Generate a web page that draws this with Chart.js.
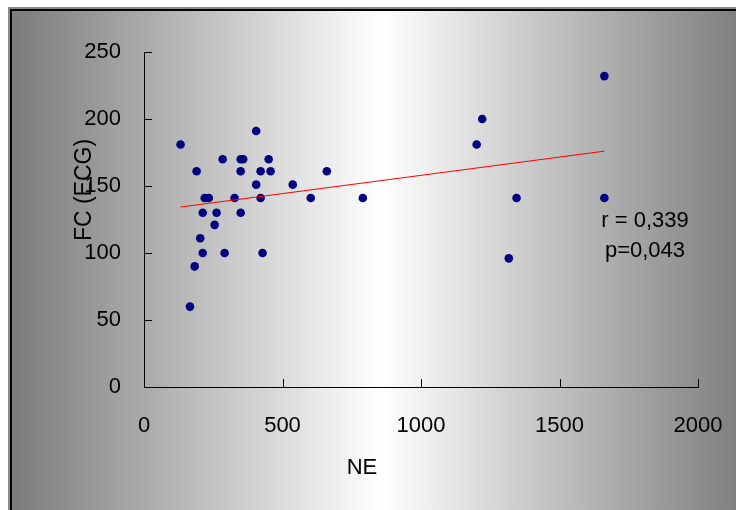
<!DOCTYPE html>
<html>
<head>
<meta charset="utf-8">
<script src="https://cdn.jsdelivr.net/npm/chart.js@4/dist/chart.umd.min.js"></script>
<style>
  body { margin: 0; background: #fff; }
  #wrap { width: 736px; height: 510px; }
</style>
</head>
<body>
<div id="wrap"><canvas id="myChart" width="736" height="510"></canvas></div>
<script>
// NE vs FC (ECG)
const neValues = [132, 405, 284, 349, 358, 450, 190, 349, 421, 457, 660, 405, 537,
    219, 234, 327, 421, 602, 212, 262, 349, 255, 203, 212, 291, 428, 183, 166,
    790, 1221, 1201, 1345, 1317, 1662, 1662];
const fcValues = [181, 191, 170, 170, 170, 170, 161, 161, 161, 161, 161, 151, 151,
    141, 141, 141, 141, 141, 130, 130, 130, 121, 111, 100, 100, 100, 90, 60,
    141, 200, 181, 141, 96, 232, 141];
const trendX = [132, 1662];
const trendY = [134.3, 176];
const xTicks = [0, 500, 1000, 1500, 2000];
const yTicks = [0, 50, 100, 150, 200, 250];
const statLines = ["r = 0,339", "p=0,043"];

const FONT = "'Liberation Sans', Arial, sans-serif";

const backdrop = {
    id: "backdrop",
    beforeDraw(c) {
        const ctx = c.ctx;
        ctx.save();
        ctx.fillStyle = "#ffffff";
        ctx.fillRect(0, 0, c.width, c.height);
        ctx.fillStyle = "#8a8a8a";
        ctx.fillRect(8, 7, c.width, c.height);
        ctx.fillStyle = "#000000";
        ctx.fillRect(10, 9, c.width, c.height);
        const g = ctx.createLinearGradient(12, 0, 750, 0);
        g.addColorStop(0, "#7b7b7b");
        g.addColorStop(0.5, "#ffffff");
        g.addColorStop(1, "#7b7b7b");
        ctx.fillStyle = g;
        ctx.fillRect(12, 11, c.width, c.height);
        ctx.restore();
    },
    afterDraw(c) {
        const ctx = c.ctx;
        const xs = c.scales.x, ys = c.scales.y;
        ctx.save();
        // inward tick marks
        ctx.strokeStyle = "#000";
        ctx.lineWidth = 1;
        ctx.beginPath();
        xTicks.forEach(v => {
            const px = Math.round(xs.getPixelForValue(v)) + 0.5;
            ctx.moveTo(px, ys.bottom);
            ctx.lineTo(px, ys.bottom - 8);
        });
        yTicks.forEach(v => {
            const py = Math.round(ys.getPixelForValue(v)) + 0.5;
            ctx.moveTo(xs.left, py);
            ctx.lineTo(xs.left + 8, py);
        });
        ctx.stroke();

        ctx.fillStyle = "#000";
        ctx.textAlign = "center";
        ctx.textBaseline = "middle";
        ctx.font = "22px " + FONT;
        ctx.fillText("NE", 362, 468);
        ctx.fillText(statLines[0], 645, 221);
        ctx.fillText(statLines[1], 645, 251);

        ctx.translate(85, 190);
        ctx.rotate(-Math.PI / 2);
        ctx.font = "23px " + FONT;
        ctx.fillText("FC (ECG)", 0, 0);
        ctx.restore();
    }
};

let chart;

function initChart() {
    const ctx = document.getElementById("myChart").getContext("2d");
    chart = new Chart(ctx, {
        type: "scatter",
        data: {
            datasets: [{
                type: "line",
                data: trendX.map((x, i) => ({ x: x, y: trendY[i] })),
                borderColor: "#ff0000",
                borderWidth: 1,
                pointRadius: 0,
                fill: false
            }, {
                data: neValues.map((x, i) => ({ x: x, y: fcValues[i] })),
                backgroundColor: "#000080",
                borderColor: "#000080",
                pointRadius: 4.3,
                pointBorderWidth: 0
            }]
        },
        options: {
            responsive: false,
            animation: false,
            layout: { padding: { left: 0, right: 38, top: 52, bottom: 0 } },
            plugins: {
                legend: { display: false },
                tooltip: { enabled: false }
            },
            scales: {
                x: {
                    type: "linear",
                    min: 0,
                    max: 2000,
                    afterFit: s => { s.height = 123; s.paddingLeft = 0; s.paddingRight = 0; },
                    afterBuildTicks: s => { s.ticks = xTicks.map(v => ({ value: v })); },
                    ticks: {
                        color: "#000", font: { family: FONT, size: 22 }, padding: 26, maxRotation: 0,
                        callback: v => String(v)
                    },
                    grid: { display: false, drawTicks: false },
                    border: { display: true, color: "#000", width: 1 }
                },
                y: {
                    min: 0,
                    max: 250,
                    afterFit: s => { s.width = 144; s.paddingTop = 0; s.paddingBottom = 0; },
                    afterBuildTicks: s => { s.ticks = yTicks.map(v => ({ value: v })); },
                    ticks: {
                        color: "#000", font: { family: FONT, size: 22 }, padding: 23,
                        callback: v => String(v)
                    },
                    grid: { display: false, drawTicks: false },
                    border: { display: true, color: "#000", width: 1 }
                }
            }
        },
        plugins: [backdrop]
    });
}

document.addEventListener("DOMContentLoaded", function() {
    initChart();
});
</script>
</body>
</html>
